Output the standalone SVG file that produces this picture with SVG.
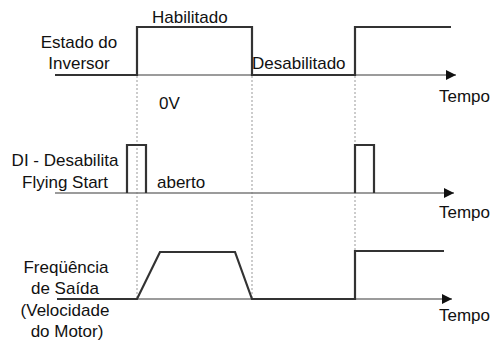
<svg xmlns="http://www.w3.org/2000/svg" width="493" height="344" viewBox="0 0 493 344">
<defs>
<marker id="arr" viewBox="0 0 10 10" refX="10" refY="5" markerWidth="10" markerHeight="10" markerUnits="userSpaceOnUse" orient="auto">
<path d="M0,0 L10,5 L0,10 z" fill="#111"/>
</marker>
<style>
.t{font-family:"Liberation Sans",Arial,sans-serif;font-size:17px;fill:#111}
.c{text-anchor:middle}
.ax{stroke:#7a7a7a;stroke-width:1.6;fill:none}
.sig{stroke:#333;stroke-width:2.2;fill:none;stroke-linejoin:miter}
.dot{stroke:#999;stroke-width:1;stroke-dasharray:2,2;fill:none}
</style>
</defs>
<rect width="493" height="344" fill="#fff"/>
<g id="connectors">
<line class="dot" x1="137" y1="76" x2="137" y2="300"/>
<line class="dot" x1="252" y1="76" x2="252" y2="300"/>
<line class="dot" x1="355" y1="76" x2="355" y2="300"/>
<line class="ax" x1="55" y1="75" x2="456" y2="75" marker-end="url(#arr)"/>
<line class="ax" x1="55" y1="193" x2="454" y2="193" marker-end="url(#arr)"/>
<line class="ax" x1="57" y1="299" x2="452" y2="299" marker-end="url(#arr)"/>
</g>
<g id="estado-inversor">
<polyline class="sig" points="55,75 137,75 137,27 252,27 252,75 355,75 355,27 451,27"/>
<text class="t c" x="79" y="48">Estado do</text>
<text class="t c" x="79" y="69">Inversor</text>
<text class="t" x="152" y="23">Habilitado</text>
<text class="t" x="252" y="69">Desabilitado</text>
<text class="t" x="439" y="102">Tempo</text>
<text class="t" x="159" y="109">0V</text>
</g>
<g id="di-flying-start">
<polyline class="sig" points="127,193 127,145 146,145 146,193"/>
<polyline class="sig" points="355,193 355,145 374,145 374,193"/>
<text class="t c" x="65" y="166">DI - Desabilita</text>
<text class="t c" x="65" y="188">Flying Start</text>
<text class="t" x="157" y="188">aberto</text>
<text class="t" x="439" y="218">Tempo</text>
</g>
<g id="frequencia-saida">
<polyline class="sig" points="57,299 137,299 160,252 235,252 252,299 355,299 355,251 444,251"/>
<text class="t c" x="66" y="273">Freqüência</text>
<text class="t c" x="65" y="294">de Saída</text>
<text class="t c" x="65" y="316">(Velocidade</text>
<text class="t c" x="67" y="337">do Motor)</text>
<text class="t" x="439" y="321">Tempo</text>
</g>
</svg>
